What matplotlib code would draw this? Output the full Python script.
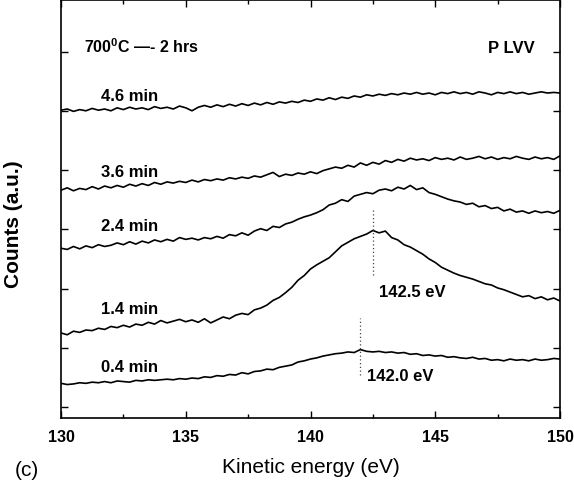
import numpy as np
import matplotlib
matplotlib.use("Agg")
import matplotlib.pyplot as plt
from matplotlib.ticker import MultipleLocator

plt.rcParams['font.family'] = ['Liberation Sans', 'DejaVu Sans']
plt.rcParams['mathtext.fontset'] = 'custom'
plt.rcParams['mathtext.rm'] = 'Liberation Sans:bold'
plt.rcParams['mathtext.bf'] = 'Liberation Sans:bold'

energy = np.linspace(130, 150, 81)

c04 = [0.40, 0.38, 0.39, 0.41, 0.40, 0.42, 0.41, 0.43, 0.41, 0.44, 0.43, 0.42, 0.45, 0.44, 0.46, 0.45,
       0.46, 0.47, 0.46, 0.48, 0.47, 0.49, 0.48, 0.51, 0.50, 0.53, 0.52, 0.55, 0.54, 0.58, 0.56, 0.60,
       0.61, 0.64, 0.63, 0.67, 0.69, 0.71, 0.76, 0.78, 0.81, 0.83, 0.86, 0.88, 0.90, 0.91, 0.93, 0.92,
       0.97, 0.94, 0.93, 0.94, 0.92, 0.93, 0.91, 0.92, 0.89, 0.90, 0.87, 0.88, 0.86, 0.87, 0.84, 0.85,
       0.83, 0.82, 0.84, 0.81, 0.82, 0.79, 0.80, 0.78, 0.81, 0.79, 0.80, 0.78, 0.81, 0.79, 0.80, 0.82,
       0.81]

c14 = [1.25, 1.22, 1.28, 1.26, 1.30, 1.29, 1.33, 1.31, 1.36, 1.34, 1.38, 1.35, 1.40, 1.38, 1.43, 1.40,
       1.46, 1.42, 1.45, 1.48, 1.44, 1.47, 1.43, 1.49, 1.42, 1.47, 1.52, 1.49, 1.55, 1.58, 1.56, 1.64,
       1.67, 1.72, 1.80, 1.85, 1.93, 2.02, 2.14, 2.22, 2.33, 2.40, 2.46, 2.52, 2.62, 2.72, 2.78, 2.84,
       2.88, 2.92, 2.98, 2.94, 2.97, 2.86, 2.82, 2.74, 2.70, 2.64, 2.58, 2.50, 2.44, 2.36, 2.31, 2.26,
       2.22, 2.19, 2.16, 2.12, 2.08, 2.06, 2.01, 1.98, 1.94, 1.90, 1.86, 1.88, 1.83, 1.86, 1.81, 1.84,
       1.79]

c24 = [2.68, 2.66, 2.71, 2.67, 2.72, 2.69, 2.74, 2.71, 2.73, 2.77, 2.74, 2.79, 2.75, 2.80, 2.77, 2.82,
       2.79, 2.83, 2.80, 2.86, 2.83, 2.85, 2.82, 2.86, 2.84, 2.88, 2.85, 2.91, 2.89, 2.94, 2.90, 2.97,
       3.01, 2.98, 3.05, 3.03, 3.09, 3.12, 3.17, 3.21, 3.24, 3.28, 3.33, 3.41, 3.44, 3.50, 3.47, 3.56,
       3.59, 3.62, 3.60, 3.66, 3.68, 3.65, 3.71, 3.68, 3.74, 3.67, 3.70, 3.62, 3.59, 3.55, 3.51, 3.48,
       3.46, 3.42, 3.44, 3.38, 3.40, 3.35, 3.37, 3.31, 3.34, 3.29, 3.31, 3.27, 3.31, 3.28, 3.30, 3.27,
       3.32]

c36 = [3.66, 3.70, 3.65, 3.69, 3.67, 3.72, 3.68, 3.73, 3.70, 3.74, 3.71, 3.76, 3.73, 3.77, 3.74, 3.79,
       3.76, 3.80, 3.78, 3.81, 3.79, 3.83, 3.80, 3.84, 3.82, 3.85, 3.83, 3.87, 3.85, 3.88, 3.86, 3.90,
       3.88, 3.92, 3.96, 3.89, 3.93, 3.91, 3.95, 3.93, 3.97, 3.94, 3.99, 4.02, 4.05, 4.03, 4.08, 4.05,
       4.12, 4.08, 4.13, 4.10, 4.16, 4.13, 4.18, 4.15, 4.20, 4.17, 4.19, 4.16, 4.21, 4.18, 4.20, 4.17,
       4.22, 4.18, 4.20, 4.23, 4.19, 4.22, 4.18, 4.21, 4.19, 4.23, 4.20, 4.18, 4.22, 4.19, 4.21, 4.18,
       4.24]

c46 = [5.01, 5.03, 4.99, 5.02, 5.00, 5.04, 5.01, 5.03, 5.00, 5.05, 5.02, 5.06, 5.03, 5.05, 5.02, 5.07,
       5.04, 5.06, 5.03, 5.08, 5.05, 5.00, 5.06, 5.09, 5.06, 5.10, 5.07, 5.11, 5.08, 5.12, 5.09, 5.13,
       5.10, 5.14, 5.11, 5.15, 5.13, 5.16, 5.14, 5.18, 5.16, 5.20, 5.18, 5.22, 5.19, 5.23, 5.21, 5.25,
       5.23, 5.27, 5.25, 5.28, 5.26, 5.29, 5.27, 5.30, 5.28, 5.31, 5.28, 5.30, 5.27, 5.31, 5.29, 5.32,
       5.29, 5.31, 5.28, 5.32, 5.30, 5.27, 5.31, 5.29, 5.32, 5.29, 5.31, 5.28, 5.30, 5.32, 5.30, 5.31,
       5.30]

series = [c04, c14, c24, c36, c46]
series_labels = ['0.4 min', '1.4 min', '2.4 min', '3.6 min', '4.6 min']
label_y = [0.66, 1.64, 3.04, 3.96, 5.24]

peak_energies = [142.0, 142.5]
peak_line_lo = [0.54, 2.23]
peak_line_hi = [1.50, 3.36]
peak_labels = ['142.0 eV', '142.5 eV']
peak_label_y = [0.51, 1.94]

fig = plt.figure(figsize=(5.74, 4.8), dpi=100)
ax = fig.add_axes([61/574, 62/480, 499/574, 418/480])

for s in series:
    ax.plot(energy, s, color='black', lw=1.2)

for lab, y in zip(series_labels, label_y):
    ax.text(131.6, y, lab, fontsize=12, fontweight='bold', ha='left', va='center')

ax.vlines(peak_energies, peak_line_lo, peak_line_hi, colors='#444444', linestyles=(0, (1, 2)), lw=0.9)
for e, lab, y in zip(peak_energies, peak_labels, peak_label_y):
    ax.text(e + 0.25, y, lab, fontsize=12, fontweight='bold', ha='left', va='center')

ax.text(130.92, 6.08, '700$^{0}$C \u2014- 2 hrs', fontsize=11.5, fontweight='bold', ha='left', va='center')
ax.text(149.0, 6.05, 'P LVV', fontsize=12, fontweight='bold', ha='right', va='center')

ax.set_xlim(130, 150)
ax.set_ylim(-0.185, 6.87)
ax.xaxis.set_major_locator(MultipleLocator(5))
ax.xaxis.set_minor_locator(MultipleLocator(2.5))
ax.yaxis.set_major_locator(MultipleLocator(1))
ax.tick_params(which='both', direction='in', top=True, right=True, width=1)
ax.tick_params(which='major', length=5)
ax.tick_params(which='minor', length=3)
ax.tick_params(axis='x', pad=9, labelsize=11.5)
ax.set_yticklabels([])
for lbl in ax.get_xticklabels():
    lbl.set_fontweight('bold')
for sp in ax.spines.values():
    sp.set_linewidth(1.2)

ax.set_xlabel('Kinetic energy (eV)', fontsize=15, labelpad=9)
ax.set_ylabel('Counts (a.u.)', fontsize=15, fontweight='bold')
ax.yaxis.set_label_coords(-0.076, 0.464)
fig.text(15/574, 10/480, '(c)', fontsize=15, ha='left', va='center')

fig.savefig('out.png', dpi=100)
